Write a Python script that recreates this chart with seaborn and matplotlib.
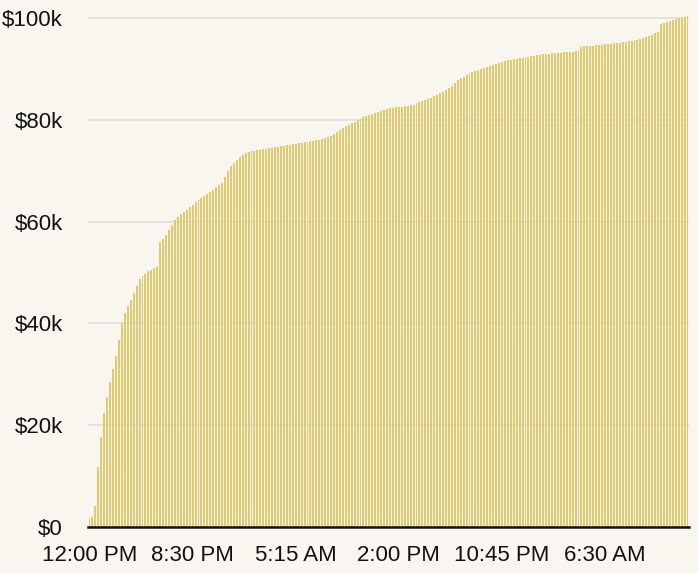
import pandas as pd
import matplotlib.pyplot as plt
import seaborn as sns

# cumulative total in $k, one bar per 15 minute slot
totals = [
    1.8, 2.0, 4.2, 11.8, 17.7, 22.4, 25.5, 28.5, 31.0, 33.5,
    36.8, 40.0, 42.0, 43.5, 44.6, 46.0, 47.4, 48.8, 49.3, 49.8,
    50.2, 50.5, 50.8, 51.0, 56.0, 56.6, 57.4, 58.3, 59.3, 60.3,
    60.9, 61.4, 61.8, 62.3, 62.8, 63.3, 63.8, 64.3, 64.7, 65.1,
    65.5, 65.9, 66.3, 66.7, 67.1, 67.6, 68.8, 70.0, 71.0, 71.6,
    72.1, 72.7, 73.1, 73.4, 73.6, 73.8, 73.9, 74.0, 74.1, 74.2,
    74.3, 74.4, 74.5, 74.6, 74.7, 74.8, 74.9, 75.0, 75.1, 75.2,
    75.3, 75.4, 75.5, 75.6, 75.7, 75.8, 75.9, 76.0, 76.1, 76.2,
    76.4, 76.6, 76.9, 77.2, 77.6, 78.0, 78.4, 78.7, 79.0, 79.3,
    79.6, 79.9, 80.2, 80.5, 80.8, 81.0, 81.2, 81.4, 81.6, 81.8,
    82.0, 82.2, 82.3, 82.4, 82.5, 82.6, 82.6, 82.7, 82.8, 82.9,
    83.0, 83.2, 83.4, 83.6, 83.8, 84.0, 84.3, 84.6, 84.9, 85.2,
    85.5, 85.8, 86.2, 86.6, 87.2, 87.8, 88.2, 88.5, 88.8, 89.1,
    89.4, 89.6, 89.8, 90.0, 90.2, 90.4, 90.6, 90.8, 91.0, 91.2,
    91.4, 91.5, 91.7, 91.8, 91.9, 92.0, 92.1, 92.2, 92.3, 92.4,
    92.5, 92.6, 92.7, 92.8, 92.9, 93.0, 93.0, 93.1, 93.1, 93.2,
    93.2, 93.3, 93.3, 93.4, 93.4, 93.5, 93.6, 94.3, 94.4, 94.4,
    94.5, 94.5, 94.6, 94.6, 94.7, 94.8, 94.8, 94.9, 95.0, 95.0,
    95.1, 95.2, 95.3, 95.4, 95.5, 95.6, 95.7, 95.9, 96.1, 96.3,
    96.5, 96.7, 97.0, 97.3, 98.8, 99.0, 99.2, 99.4, 99.6, 99.8,
    99.9, 100.0, 100.2, 100.4,
]
tick_labels = ["12:00 PM", "8:30 PM", "5:15 AM", "2:00 PM", "10:45 PM", "6:30 AM"]
tick_step = 35

df = pd.DataFrame({"slot": range(len(totals)), "total": [t * 1000 for t in totals]})

bg = "#f8f6ee"
sns.set_style("white")
plt.rcParams["font.family"] = ["Liberation Sans", "DejaVu Sans"]

fig = plt.figure(figsize=(6.98, 5.73), dpi=100, facecolor=bg)
ax = fig.add_axes([88 / 698, 46 / 573, 601 / 698, 519.2 / 573])
ax.set_facecolor(bg)

sns.barplot(data=df, x="slot", y="total", color="#e0c96e", saturation=1,
            width=0.66, linewidth=0, ax=ax)

ax.set_xlim(-0.5, len(totals) - 0.5)
ax.set_ylim(0, 102000)
ax.set_yticks(range(0, 100001, 20000))
ax.set_yticklabels(["$0", "$20k", "$40k", "$60k", "$80k", "$100k"])
ax.set_xticks([i * tick_step for i in range(len(tick_labels))])
ax.set_xticklabels(tick_labels)
ax.yaxis.grid(True, color="#e2e0da", linewidth=1.3)
ax.set_axisbelow(True)
ax.tick_params(axis="both", length=0, labelsize=16, colors="#111111")
ax.tick_params(axis="y", pad=18)
ax.tick_params(axis="x", pad=13)
for s in ["top", "right", "left"]:
    ax.spines[s].set_visible(False)
ax.spines["bottom"].set_color("#111111")
ax.spines["bottom"].set_linewidth(1.8)
ax.set_xlabel("")
ax.set_ylabel("")

fig.savefig("out.png", dpi=100, facecolor=bg)
